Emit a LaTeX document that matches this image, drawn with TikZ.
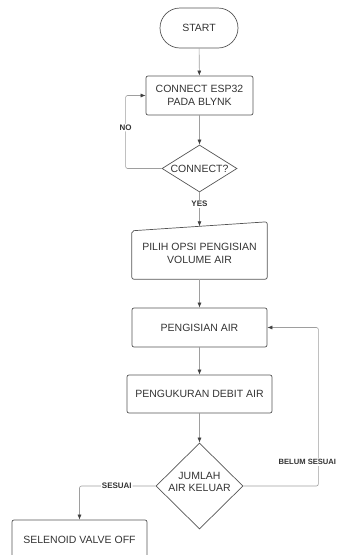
\documentclass[tikz,border=0pt]{standalone}
\usepackage{fontspec}
\setmainfont{Liberation Sans}
\usetikzlibrary{shapes.geometric,arrows.meta}
\definecolor{garis}{HTML}{9E9E9E}
\definecolor{tepi}{HTML}{555555}
\definecolor{teks}{HTML}{333333}
\begin{document}
\begin{tikzpicture}[x=1pt,y=-1pt,
        kotak/.style={draw=tepi,line width=0.7pt,rounded corners=2pt,minimum height=39pt,
            text=teks,font=\fontsize{10.5}{12.5}\selectfont,align=center},
        keputusan/.style={diamond,draw=tepi,line width=0.7pt,inner sep=0pt},
        isian/.style={text=teks,font=\fontsize{10.5}{12.5}\selectfont,align=center},
        alur/.style={draw=garis,line width=0.6pt,-{Latex[length=5pt,width=4pt,color=black!75]}},
        ket/.style={fill=white,inner sep=1pt,text=teks,font=\fontsize{8}{9}\selectfont\bfseries}]
        \useasboundingbox (0,0) rectangle (337,555);
        %% main column
        \node[kotak,rounded corners=20pt,minimum width=78pt,minimum height=40pt] (start) at (199,28) {START};
        \node[kotak,minimum width=107pt] (esp) at (199.5,95.5) {CONNECT ESP32\\PADA BLYNK};
        \node[keputusan,minimum width=75pt,minimum height=47pt,
            label={[isian]center:CONNECT?}] (cek) at (199.5,168.5) {};
        \node[minimum width=135pt,minimum height=57pt,
            label={[isian,yshift=-3pt]center:PILIH OPSI PENGISIAN\\VOLUME AIR}] (opsi) at (199.5,250.5) {};
        \draw[draw=tepi,line width=0.7pt,rounded corners=2pt] ([yshift=-9pt]opsi.north west) -- (opsi.north east)
            -- (opsi.south east) -- (opsi.south west) -- cycle;
        \node[kotak,minimum width=135pt] (isi) at (199.5,327.5) {PENGISIAN AIR};
        \node[kotak,minimum width=145pt,minimum height=38pt] (ukur) at (199.5,394) {PENGUKURAN DEBIT AIR};
        \node[keputusan,minimum width=87pt,minimum height=86pt,
            label={[isian,yshift=4pt]center:JUMLAH\\AIR KELUAR}] (jumlah) at (199.5,486) {};
        \node[kotak,minimum width=135pt] (valve) at (79.5,539.5) {SELENOID VALVE OFF};
        %% straight arrows
        \foreach \a/\b in {start/esp,esp/cek,opsi/isi,isi/ukur,ukur/jumlah}
            \draw[alur] (\a) -- (\b);
        \draw[alur] (cek.south) -- ([yshift=-4.5pt]opsi.north) node[ket,pos=0.35] {YES};
        %% loops and exits
        \draw[alur,rounded corners=2pt] (cek.west) -- ++(-36,0) |- (esp.west) node[ket,pos=0.28] {NO};
        \draw[alur,rounded corners=2pt] (jumlah.east) -- ++(75,0) |- (isi.east)
            node[ket,pos=0.075,xshift=-11pt,font=\fontsize{7.6}{9}\selectfont\bfseries] {BELUM SESUAI};
        \draw[alur,rounded corners=2pt] (jumlah.west) -| (valve.north) node[ket,pos=0.255] {SESUAI};
    \end{tikzpicture}
\end{document}
